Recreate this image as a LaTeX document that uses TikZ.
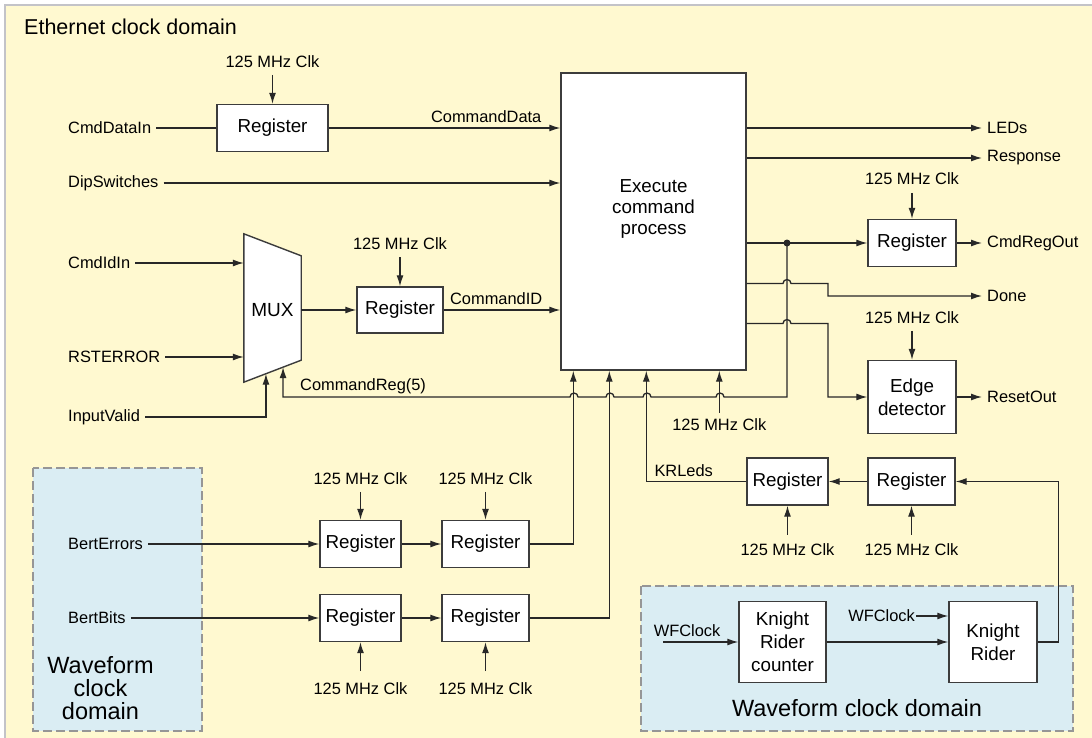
\documentclass[tikz,border=0pt]{standalone}
\usepackage{fontspec}
\setmainfont{Liberation Sans}
\usetikzlibrary{arrows.meta, positioning, calc}
\definecolor{ethYellow}{RGB}{255,249,208}
\definecolor{wfBlue}{RGB}{218,237,243}
\definecolor{frameGray}{RGB}{195,195,200}
\definecolor{dashGray}{RGB}{150,150,150}
\definecolor{wireGray}{RGB}{40,40,40}
\definecolor{boxLine}{RGB}{60,60,60}

\begin{document}
\begin{tikzpicture}[
    x=1pt, y=-1pt,
    register/.style={rectangle, draw=boxLine, fill=white, line width=1.4pt, minimum height=47pt, inner sep=0pt, align=center, font=\fontsize{18.8}{23}\selectfont},
    sig/.style={inner sep=5pt, font=\fontsize{16.4}{19}\selectfont},
    clk/.style={inner sep=1pt, font=\fontsize{16.4}{19}\selectfont},
    wire/.style={draw=wireGray, line width=1.3pt},
    arrow/.style={wire, -{Latex[length=11pt, width=7pt]}},
    wfdomain/.style={draw=dashGray, fill=wfBlue, line width=1.3pt, dash pattern=on 9pt off 4pt},
    domainlabel/.style={align=center, font=\fontsize{23.5}{23}\selectfont}
]
\useasboundingbox (0,0) rectangle (1092,738);

% Ethernet clock domain
\fill[ethYellow] (5,5) rectangle (1092,738);
\draw[frameGray, line width=1.2pt] (5,738) -- (5,5) -- (1092,5);
\node[anchor=west, inner sep=0pt, font=\fontsize{21.5}{24}\selectfont] (title) at (24,27) {Ethernet clock domain};

% Waveform clock domains
\draw[wfdomain] (33,468) rectangle (202,731);
\node[domainlabel] (wfleftlbl) at (100.5,688) {Waveform\\clock\\domain};
\draw[wfdomain] (641,586) rectangle (1073,731);
\node[domainlabel] (wfrightlbl) at (857,708) {Waveform clock domain};

% Execute command process
\node[register, minimum width=185pt, minimum height=297pt] (exec) at (653.5,221.5) {};
\node[align=center, font=\fontsize{18.8}{21}\selectfont] (exectxt) at ([yshift=12.5pt]exec.center) {Execute\\command\\process};
\coordinate (inErr) at ($(exec.south west)+(13,0)$);
\coordinate (inBits) at ($(exec.south west)+(49,0)$);
\coordinate (inKR) at ($(exec.south west)+(86,0)$);
\coordinate (inClk) at ($(exec.south west)+(159,0)$);
\node[clk, below=47pt of inClk] (clkexec) {125 MHz Clk};
\draw[arrow, shorten <=5pt] (clkexec) -- (inClk);

% Command data
\node[register, minimum width=111pt] (regdata) at (272.5,128) {Register};
\node[clk, above=35pt of regdata] (clkdata) {125 MHz Clk};
\node[sig, anchor=west] (cmddatain) at (63,128) {CmdDataIn};
\node[sig, anchor=west] (dipsw) at (63,183) {DipSwitches};
\draw[arrow, shorten <=6pt] (clkdata) -- (regdata);
\draw[wire] (cmddatain) -- (regdata);
\draw[arrow] (regdata) -- (regdata -| exec.west) node[sig, pos=0.68, above] {CommandData};
\draw[arrow] (dipsw) -- (dipsw -| exec.west);

% MUX
\node[minimum width=57pt, minimum height=148pt, inner sep=0pt] (mux) at (272.5,308) {};
\coordinate (muxne) at ($(mux.north east)+(0,22)$);
\coordinate (muxse) at ($(mux.south east)+(0,-22)$);
\draw[boxLine, fill=white, line width=1.4pt] (mux.north west) -- (muxne) -- (muxse) -- (mux.south west) -- cycle;
\node[font=\fontsize{19}{21}\selectfont] (muxtxt) at ([yshift=-2pt]mux.center) {MUX};
\coordinate (sel1) at ($(mux.south west)!0.386!(muxse)$);
\coordinate (sel2) at ($(mux.south west)!0.684!(muxse)$);
\node[sig, anchor=west] (cmdidin) at (63,263) {CmdIdIn};
\node[sig, anchor=west] (rsterror) at (63,357) {RSTERROR};
\node[sig, anchor=west] (inputvalid) at (63,417) {InputValid};
\draw[arrow] (cmdidin) -- (cmdidin -| mux.west);
\draw[arrow] (rsterror) -- (rsterror -| mux.west);
\draw[arrow] (inputvalid) -| (sel1);

% Command ID
\node[register, minimum width=86pt, minimum height=46pt] (regid) at (400,310) {Register};
\node[clk, above=35pt of regid] (clkid) {125 MHz Clk};
\draw[arrow, shorten <=6pt] (clkid) -- (regid);
\draw[arrow] (mux.east |- regid) -- (regid);
\draw[arrow] (regid) -- (regid -| exec.west) node[sig, pos=0.45, above] {CommandID};

% Outputs
\node[sig, anchor=west] (leds) at (982,128) {LEDs};
\node[sig, anchor=west] (response) at (982,158) {Response};
\node[register, minimum width=88pt] (regout) at (912,243) {Register};
\node[clk, above=33pt of regout] (clkout) {125 MHz Clk};
\node[sig, anchor=west] (cmdregout) at (982,243) {CmdRegOut};
\node[sig, anchor=west] (done) at (982,296) {Done};
\node[register, minimum width=88pt, minimum height=73pt] (edgedet) at (912,397) {Edge\\detector};
\node[clk, above=35pt of edgedet] (clkedge) {125 MHz Clk};
\node[sig, anchor=west] (resetout) at (982,397) {ResetOut};
\coordinate (doneY) at (0,283.5);
\coordinate (edgeY) at (0,323.5);
\draw[arrow] (exec.east |- leds) -- (leds);
\draw[arrow] (exec.east |- response) -- (response);
\draw[arrow] (exec.east |- regout) -- (regout);
\draw[arrow, shorten <=7pt] (clkout) -- (regout);
\draw[arrow] (regout) -- (cmdregout);
\coordinate (tap) at (787,243);
\fill[wireGray] (tap) circle (3.5);
\draw[arrow] (exec.east |- doneY) -- (783,283.5) arc[start angle=180, end angle=360, radius=4] -- (828,283.5) |- (done);
\draw[arrow] (exec.east |- edgeY) -- (783,323.5) arc[start angle=180, end angle=360, radius=4] -- (828,323.5) |- (edgedet);
\draw[arrow, shorten <=6pt] (clkedge) -- (edgedet);
\draw[arrow] (edgedet) -- (resetout);

% CommandReg(5) back to the MUX select
\draw[arrow] (tap) -- (787,397) -- (724,397) arc[start angle=0, end angle=-180, radius=4]
    -- (651,397) arc[start angle=0, end angle=-180, radius=4]
    -- (614,397) arc[start angle=0, end angle=-180, radius=4]
    -- (578,397) arc[start angle=0, end angle=-180, radius=4] -| (sel2);
\node[sig, anchor=south west] (cmdreglbl) at (295,399) {CommandReg(5)};

% BERT inputs
\node[sig, anchor=west] (berterr) at (63,544) {BertErrors};
\node[sig, anchor=west] (bertbits) at (63,618) {BertBits};
\node[register, minimum width=81pt] (rega1) at (360.5,544) {Register};
\node[register, minimum width=87pt] (rega2) at (485.5,544) {Register};
\node[register, minimum width=81pt] (regb1) at (360.5,618) {Register};
\node[register, minimum width=87pt] (regb2) at (485.5,618) {Register};
\node[clk, above=34pt of rega1] (clka1) {125 MHz Clk};
\node[clk, above=34pt of rega2] (clka2) {125 MHz Clk};
\node[clk, below=39pt of regb1] (clkb1) {125 MHz Clk};
\node[clk, below=39pt of regb2] (clkb2) {125 MHz Clk};
\draw[arrow, shorten <=6pt] (clka1) -- (rega1);
\draw[arrow, shorten <=6pt] (clka2) -- (rega2);
\draw[arrow, shorten <=10pt] (clkb1) -- (regb1);
\draw[arrow, shorten <=10pt] (clkb2) -- (regb2);
\draw[arrow] (berterr) -- (rega1);
\draw[arrow] (rega1) -- (rega2);
\draw[arrow] (rega2) -| (inErr);
\draw[arrow] (bertbits) -- (regb1);
\draw[arrow] (regb1) -- (regb2);
\draw[arrow] (regb2) -| (inBits);

% Knight Rider
\node[register, minimum width=87pt, minimum height=81pt] (krc) at (782.5,642) {Knight\\Rider\\counter};
\node[register, minimum width=88pt, minimum height=81pt] (kr) at (993,642) {Knight\\Rider};
\node[register, minimum width=87pt] (kra) at (911.5,481.5) {Register};
\node[register, minimum width=81pt] (krb) at (787.5,481.5) {Register};
\node[clk, below=37pt of kra] (clkkra) {125 MHz Clk};
\node[clk, below=37pt of krb] (clkkrb) {125 MHz Clk};
\node[sig, inner sep=1pt, anchor=east] (wfclk) at (916,616) {WFClock};
\coordinate (wfsrc) at (663,642);
\draw[arrow] (wfsrc) -- (krc) node[sig, pos=0.32, above] {WFClock};
\draw[arrow] (krc) -- (kr);
\draw[arrow] (wfclk) -- (wfclk -| kr.west);
\draw[arrow] (kr.east) -- ++(21,0) |- (kra);
\draw[arrow] (kra) -- (krb);
\draw[arrow] (krb) -| (inKR);
\draw[arrow, shorten <=8pt] (clkkra) -- (kra);
\draw[arrow, shorten <=8pt] (clkkrb) -- (krb);
\node[sig, anchor=south west] (krleds) at ([xshift=3pt]inKR |- krb) {KRLeds};
\end{tikzpicture}
\end{document}
